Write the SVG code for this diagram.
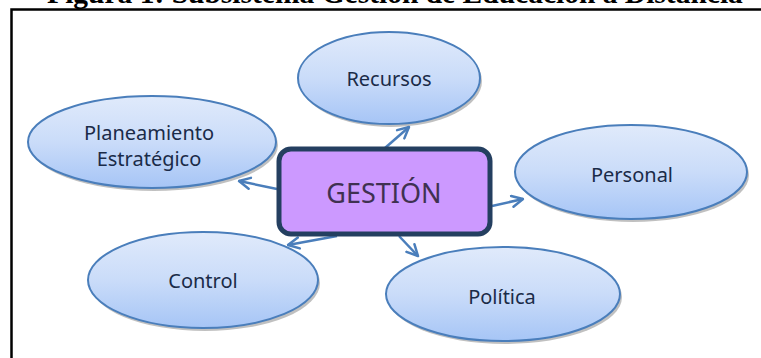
<svg xmlns="http://www.w3.org/2000/svg" width="761" height="358" viewBox="0 0 761 358">
<style>
.title{font-family:"Liberation Serif","Times New Roman",serif;font-weight:bold;font-size:29.5px;fill:#000}
.frame{stroke:#000;stroke-width:2.5;fill:none}
.ell{fill:url(#eg);stroke:#4A7EBB;stroke-width:2}
.shd{fill:#8c8c8c;opacity:0.55}
.lbl{font-family:"Noto Sans","Open Sans",sans-serif;font-size:20px;fill:#1A2B48;text-anchor:middle;dominant-baseline:central}
.main{font-family:"Noto Sans","Open Sans",sans-serif;font-size:27px;fill:#3F3151;text-anchor:middle;dominant-baseline:central}
.con{stroke:#4A7EBB;stroke-width:2.5;fill:none;marker-end:url(#ah)}
</style>
<defs>
<linearGradient id="eg" x1="0" y1="0" x2="0" y2="1">
<stop offset="0" stop-color="#E0EAFB"/>
<stop offset="0.5" stop-color="#CADCF9"/>
<stop offset="1" stop-color="#A6C5F6"/>
</linearGradient>
<marker id="ah" viewBox="0 0 14 14" refX="12.5" refY="7" markerWidth="14" markerHeight="14" markerUnits="userSpaceOnUse" orient="auto">
<path d="M1.5,1.5 L12.5,7 L1.5,12.5" fill="none" stroke="#4A7EBB" stroke-width="2.5" stroke-linecap="round" stroke-linejoin="round"/>
</marker>
</defs>
<text class="title" x="395" y="3" text-anchor="middle">Figura 1: Subsistema Gestión de Educación a Distancia</text>
<path class="frame" d="M11.5,358 L11.5,9.5 L761,9.5"/>
<g id="recursos">
<ellipse class="shd" cx="391" cy="81" rx="91" ry="46"/>
<ellipse class="ell" cx="389" cy="78" rx="91" ry="46"/>
<text class="lbl" x="389" y="78">Recursos</text>
</g>
<g id="planeamiento">
<ellipse class="shd" cx="154" cy="145" rx="124" ry="46"/>
<ellipse class="ell" cx="152" cy="142" rx="124" ry="46"/>
<text class="lbl" x="149" y="132">Planeamiento</text>
<text class="lbl" x="149" y="158">Estratégico</text>
</g>
<g id="personal">
<ellipse class="shd" cx="633" cy="175" rx="116" ry="47"/>
<ellipse class="ell" cx="631" cy="172" rx="116" ry="47"/>
<text class="lbl" x="632" y="174">Personal</text>
</g>
<g id="politica">
<ellipse class="shd" cx="505" cy="297" rx="117" ry="47"/>
<ellipse class="ell" cx="503" cy="294" rx="117" ry="47"/>
<text class="lbl" x="502" y="296">Política</text>
</g>
<g id="control">
<ellipse class="shd" cx="205" cy="283" rx="115" ry="48"/>
<ellipse class="ell" cx="203" cy="280" rx="115" ry="48"/>
<text class="lbl" x="203" y="280">Control</text>
</g>
<g id="connectors">
<line class="con" x1="385" y1="148" x2="409" y2="127"/>
<line class="con" x1="277" y1="189" x2="239" y2="181"/>
<line class="con" x1="492" y1="206" x2="523" y2="199"/>
<line class="con" x1="399" y1="236" x2="418" y2="256"/>
<line class="con" x1="337" y1="236" x2="288" y2="245"/>
</g>
<g id="gestion">
<rect x="279" y="149" width="211" height="85" rx="12" ry="12" fill="#CC99FF" stroke="#243F60" stroke-width="5"/>
<text class="main" x="384" y="192">GESTIÓN</text>
</g>
</svg>
